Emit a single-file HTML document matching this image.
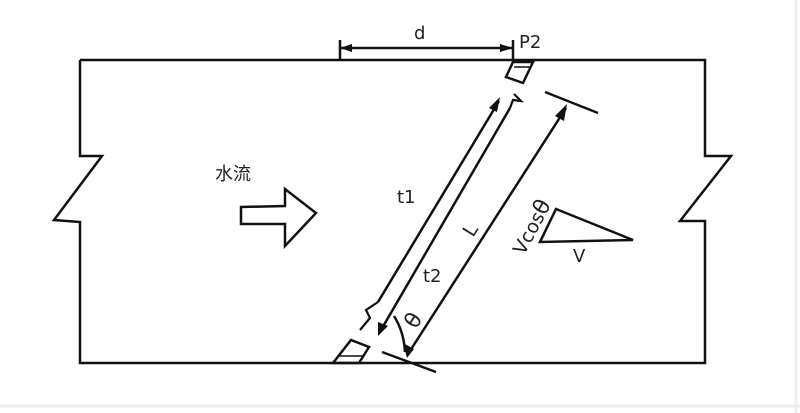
<!DOCTYPE html>
<html><head><meta charset="utf-8"><style>
html,body{margin:0;padding:0;background:#fff;}
svg{display:block;}
text{font-family:"DejaVu Sans","Liberation Sans","Noto Sans CJK SC",sans-serif;fill:#222;}
</style></head><body>
<svg width="800" height="413" viewBox="0 0 800 413">
<rect x="0" y="0" width="800" height="413" fill="#fff"/>
<line x1="0" y1="406" x2="800" y2="406" stroke="#eee" stroke-width="3"/>
<line x1="796" y1="0" x2="796" y2="413" stroke="#eee" stroke-width="3"/>
<g fill="none" stroke="#111" stroke-width="2.5" stroke-linejoin="miter">
<polyline points="80,60 705,60 705,156 731,156 680,221 705,221 705,363 80,363 80,222 54,220 102,156 80,156 80,60"/>
<line x1="340" y1="40" x2="340" y2="60"/>
<line x1="513" y1="40" x2="513" y2="60"/>
<line x1="340" y1="48" x2="513" y2="48"/>
<polygon points="513,62 533,62 523,83 506,77"/>
<line x1="514" y1="67" x2="531" y2="67" stroke-width="1.5"/>
<polygon points="333,363 359,363 369,347 351,340"/>
<line x1="339" y1="356" x2="363" y2="356" stroke-width="1.5"/>
<line x1="378" y1="302" x2="499" y2="101"/>
<polyline points="378,302 366,310 370,318 360,330" stroke-width="2.2"/>
<line x1="510" y1="108" x2="381" y2="330"/>
<polyline points="510,108 513,100 521,101 514,94" stroke-width="2.2"/>
<line x1="566" y1="108" x2="408" y2="354"/>
<line x1="545" y1="92" x2="598" y2="113"/>
<line x1="382" y1="352" x2="436" y2="372"/>
<path d="M394,316 Q404,332 405,352"/>
<polygon points="556,209 633,240 540,242"/>
<polygon points="241,207 285,206 285,189 316,213 285,246 285,224 241,224"/>
</g>
<g fill="#111">
<polygon points="340,48 352,44 352,52"/>
<polygon points="513,48 500,44 500,52"/>
<polygon points="500,97 489,108 497,112"/>
<polygon points="378,336 378,322 388,326"/>
<polygon points="567,104 555,116 564,121"/>
<polygon points="407,358 403,343 414,349"/>
</g>
<text x="414" y="39" font-size="18">d</text>
<text x="519" y="48" font-size="18">P2</text>
<text x="215" y="180" font-size="18">水流</text>
<text x="397" y="203" font-size="18">t1</text>
<text x="423" y="282" font-size="18">t2</text>
<text x="0" y="0" font-size="19" transform="translate(473,238) rotate(-58)">L</text>
<text x="0" y="0" font-size="22" transform="translate(416,330) rotate(-58)">θ</text>
<text x="0" y="0" font-size="19" transform="translate(524,256) rotate(-62)">Vcos<tspan font-size="22">θ</tspan></text>
<text x="573" y="262" font-size="18">V</text>
</svg>
</body></html>
